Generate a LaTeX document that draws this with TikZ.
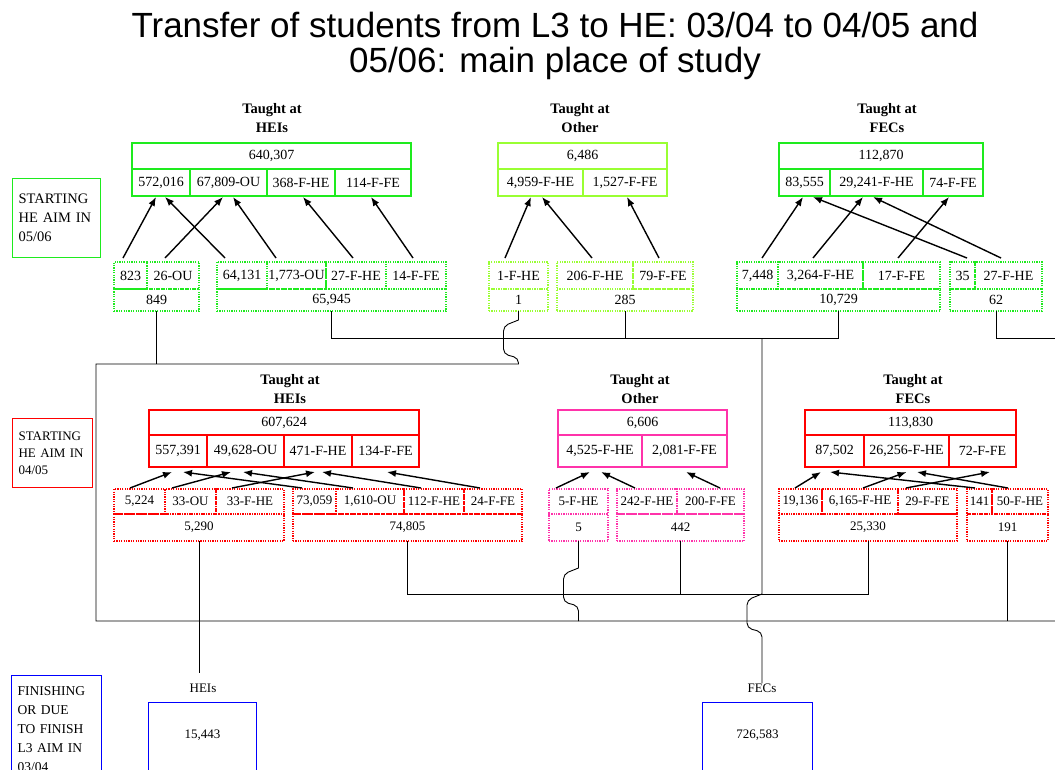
\documentclass[tikz,border=0pt]{standalone}
\usepackage{fontspec}
\setmainfont{Liberation Serif}
\newfontfamily\titlefont{Liberation Sans}
\usetikzlibrary{positioning,arrows.meta,calc}

\definecolor{hgreen}{RGB}{30,235,30}
\definecolor{lgreen}{RGB}{153,255,51}
\definecolor{hred}{RGB}{255,0,0}
\definecolor{hpink}{RGB}{255,51,170}
\definecolor{hblue}{RGB}{0,0,255}

\begin{document}
\begin{tikzpicture}[x=1pt, y=-1pt, >={Latex[length=9pt,width=7pt]},
  cell/.style={draw, rectangle, line width=1.2pt, inner sep=0pt, outer sep=0pt, minimum height=27pt, font=\fontsize{14}{16}\selectfont},
  dcell/.style={cell, dash pattern=on 1.2pt off 1.2pt},
  scell/.style={dcell, font=\fontsize{13}{15}\selectfont},
  head/.style={font=\bfseries\fontsize{14.5}{19}\selectfont, align=center, inner sep=0pt, anchor=north},
  aimbox/.style={draw, rectangle, line width=1.2pt, anchor=north west, align=left, inner xsep=6pt, inner ysep=0pt},
  endbox/.style={draw=hblue, rectangle, line width=1.2pt, anchor=north west, inner sep=0pt, minimum height=100pt, text height=10pt, text depth=38pt, font=\fontsize{13}{15}\selectfont},
  lbl/.style={inner sep=0pt, font=\fontsize{13}{15}\selectfont},
  wire/.style={draw, line width=0.9pt},
  arr/.style={->, line width=1.4pt}]
  \useasboundingbox (0,0) rectangle (1055,769);
  \clip (0,0) rectangle (1055,769);

  \node[font=\titlefont\fontsize{35}{35}\selectfont, align=center, inner sep=0pt, anchor=north] (title) at (555,12) {Transfer of students from L3 to HE: 03/04 to 04/05 and\\05/06: main place of study};

  % starting 05/06
  \node[aimbox, draw=hgreen, minimum width=88pt, minimum height=79pt, text width=76pt, font=\fontsize{14.5}{19}\selectfont] (aim0506) at (12,178) {STARTING\\HE AIM IN\\05/06};

  \node[head] (hdTopHEI) at (272,103) {Taught at\\HEIs};
  \node[cell, draw=hgreen, minimum width=58pt, anchor=north west] (topHEI1) at (132,169) {572,016};
  \node[cell, draw=hgreen, minimum width=77pt, right=0pt of topHEI1] (topHEI2) {67,809-OU};
  \node[cell, draw=hgreen, minimum width=68pt, right=0pt of topHEI2] (topHEI3) {368-F-HE};
  \node[cell, draw=hgreen, minimum width=76pt, right=0pt of topHEI3] (topHEI4) {114-F-FE};
  \node[cell, draw=hgreen, minimum width=279pt, minimum height=26pt, anchor=south west] (topHEI) at (topHEI1.north west) {640,307};

  \node[dcell, draw=hgreen, minimum width=33pt, anchor=north west] (inHEIa1) at (114,262) {823};
  \node[dcell, draw=hgreen, minimum width=52pt, right=0pt of inHEIa1] (inHEIa2) {26-OU};
  \node[dcell, draw=hgreen, minimum width=85pt, minimum height=22pt, anchor=north west] (inHEIa) at (inHEIa1.south west) {849};
  \node[dcell, draw=hgreen, minimum width=50pt, anchor=north west] (inHEIb1) at (217,262) {64,131};
  \node[dcell, draw=hgreen, minimum width=59pt, right=0pt of inHEIb1] (inHEIb2) {1,773-OU};
  \node[dcell, draw=hgreen, minimum width=60pt, right=0pt of inHEIb2] (inHEIb3) {27-F-HE};
  \node[dcell, draw=hgreen, minimum width=60pt, right=0pt of inHEIb3] (inHEIb4) {14-F-FE};
  \node[dcell, draw=hgreen, minimum width=229pt, minimum height=22pt, anchor=north west] (inHEIb) at (inHEIb1.south west) {65,945};

  \node[head] (hdTopOTH) at (580,103) {Taught at\\Other};
  \node[cell, draw=lgreen, minimum width=85pt, anchor=north west] (topOTH1) at (498,169) {4,959-F-HE};
  \node[cell, draw=lgreen, minimum width=84pt, right=0pt of topOTH1] (topOTH2) {1,527-F-FE};
  \node[cell, draw=lgreen, minimum width=169pt, minimum height=26pt, anchor=south west] (topOTH) at (topOTH1.north west) {6,486};

  \node[dcell, draw=lgreen, minimum width=59pt, anchor=north west] (inOTHa1) at (489,262) {1-F-HE};
  \node[dcell, draw=lgreen, minimum width=59pt, minimum height=22pt, anchor=north west] (inOTHa) at (inOTHa1.south west) {1};
  \node[dcell, draw=lgreen, minimum width=76pt, anchor=north west] (inOTHb1) at (557,262) {206-F-HE};
  \node[dcell, draw=lgreen, minimum width=60pt, right=0pt of inOTHb1] (inOTHb2) {79-F-FE};
  \node[dcell, draw=lgreen, minimum width=136pt, minimum height=22pt, anchor=north west] (inOTHb) at (inOTHb1.south west) {285};

  \node[head] (hdTopFEC) at (887,103) {Taught at\\FECs};
  \node[cell, draw=hgreen, minimum width=51pt, anchor=north west] (topFEC1) at (779,169) {83,555};
  \node[cell, draw=hgreen, minimum width=93pt, right=0pt of topFEC1] (topFEC2) {29,241-F-HE};
  \node[cell, draw=hgreen, minimum width=60pt, right=0pt of topFEC2] (topFEC3) {74-F-FE};
  \node[cell, draw=hgreen, minimum width=204pt, minimum height=26pt, anchor=south west] (topFEC) at (topFEC1.north west) {112,870};

  \node[dcell, draw=hgreen, minimum width=41pt, anchor=north west] (inFECa1) at (737,262) {7,448};
  \node[dcell, draw=hgreen, minimum width=85pt, right=0pt of inFECa1] (inFECa2) {3,264-F-HE};
  \node[dcell, draw=hgreen, minimum width=77pt, right=0pt of inFECa2] (inFECa3) {17-F-FE};
  \node[dcell, draw=hgreen, minimum width=203pt, minimum height=22pt, anchor=north west] (inFECa) at (inFECa1.south west) {10,729};
  \node[dcell, draw=hgreen, minimum width=25pt, anchor=north west] (inFECb1) at (950,262) {35};
  \node[dcell, draw=hgreen, minimum width=67pt, right=0pt of inFECb1] (inFECb2) {27-F-HE};
  \node[dcell, draw=hgreen, minimum width=92pt, minimum height=22pt, anchor=north west] (inFECb) at (inFECb1.south west) {62};

  % starting 04/05
  \node[aimbox, draw=hred, minimum width=80pt, minimum height=69pt, text width=68pt, font=\fontsize{13}{17}\selectfont] (aim0405) at (12,418) {STARTING\\HE AIM IN\\04/05};

  \node[head] (hdMidHEI) at (290,374) {Taught at\\HEIs};
  \node[cell, draw=hred, minimum width=58pt, minimum height=32pt, anchor=north west] (midHEI1) at (149,435) {557,391};
  \node[cell, draw=hred, minimum width=77pt, minimum height=32pt, right=0pt of midHEI1] (midHEI2) {49,628-OU};
  \node[cell, draw=hred, minimum width=68pt, minimum height=32pt, right=0pt of midHEI2] (midHEI3) {471-F-HE};
  \node[cell, draw=hred, minimum width=67pt, minimum height=32pt, right=0pt of midHEI3] (midHEI4) {134-F-FE};
  \node[cell, draw=hred, minimum width=270pt, minimum height=25pt, anchor=south west] (midHEI) at (midHEI1.north west) {607,624};

  \node[scell, draw=hred, minimum width=51pt, minimum height=25pt, anchor=north west] (inHEIc1) at (114,489) {5,224};
  \node[scell, draw=hred, minimum width=51pt, minimum height=25pt, right=0pt of inHEIc1] (inHEIc2) {33-OU};
  \node[scell, draw=hred, minimum width=68pt, minimum height=25pt, right=0pt of inHEIc2] (inHEIc3) {33-F-HE};
  \node[scell, draw=hred, minimum width=170pt, anchor=north west] (inHEIc) at (inHEIc1.south west) {5,290};
  \node[scell, draw=hred, minimum width=43pt, minimum height=25pt, anchor=north west] (inHEId1) at (293,489) {73,059};
  \node[scell, draw=hred, minimum width=68pt, minimum height=25pt, right=0pt of inHEId1] (inHEId2) {1,610-OU};
  \node[scell, draw=hred, minimum width=60pt, minimum height=25pt, right=0pt of inHEId2] (inHEId3) {112-F-HE};
  \node[scell, draw=hred, minimum width=58pt, minimum height=25pt, right=0pt of inHEId3] (inHEId4) {24-F-FE};
  \node[scell, draw=hred, minimum width=229pt, anchor=north west] (inHEId) at (inHEId1.south west) {74,805};

  \node[head] (hdMidOTH) at (640,374) {Taught at\\Other};
  \node[cell, draw=hpink, minimum width=84pt, minimum height=32pt, anchor=north west] (midOTH1) at (558,435) {4,525-F-HE};
  \node[cell, draw=hpink, minimum width=85pt, minimum height=32pt, right=0pt of midOTH1] (midOTH2) {2,081-F-FE};
  \node[cell, draw=hpink, minimum width=169pt, minimum height=25pt, anchor=south west] (midOTH) at (midOTH1.north west) {6,606};

  \node[scell, draw=hpink, minimum width=59pt, minimum height=25pt, anchor=north west] (inOTHc1) at (549,489) {5-F-HE};
  \node[scell, draw=hpink, minimum width=59pt, anchor=north west] (inOTHc) at (inOTHc1.south west) {5};
  \node[scell, draw=hpink, minimum width=60pt, minimum height=25pt, anchor=north west] (inOTHd1) at (617,489) {242-F-HE};
  \node[scell, draw=hpink, minimum width=67pt, minimum height=25pt, right=0pt of inOTHd1] (inOTHd2) {200-F-FE};
  \node[scell, draw=hpink, minimum width=127pt, anchor=north west] (inOTHd) at (inOTHd1.south west) {442};

  \node[head] (hdMidFEC) at (913,374) {Taught at\\FECs};
  \node[cell, draw=hred, minimum width=59pt, minimum height=32pt, anchor=north west] (midFEC1) at (805,435) {87,502};
  \node[cell, draw=hred, minimum width=85pt, minimum height=32pt, right=0pt of midFEC1] (midFEC2) {26,256-F-HE};
  \node[cell, draw=hred, minimum width=67pt, minimum height=32pt, right=0pt of midFEC2] (midFEC3) {72-F-FE};
  \node[cell, draw=hred, minimum width=211pt, minimum height=25pt, anchor=south west] (midFEC) at (midFEC1.north west) {113,830};

  \node[scell, draw=hred, minimum width=43pt, minimum height=25pt, anchor=north west] (inFECc1) at (779,489) {19,136};
  \node[scell, draw=hred, minimum width=76pt, minimum height=25pt, right=0pt of inFECc1] (inFECc2) {6,165-F-HE};
  \node[scell, draw=hred, minimum width=59pt, minimum height=25pt, right=0pt of inFECc2] (inFECc3) {29-F-FE};
  \node[scell, draw=hred, minimum width=178pt, anchor=north west] (inFECc) at (inFECc1.south west) {25,330};
  \node[scell, draw=hred, minimum width=25pt, minimum height=25pt, anchor=north west] (inFECd1) at (967,489) {141};
  \node[scell, draw=hred, minimum width=56pt, minimum height=25pt, right=0pt of inFECd1] (inFECd2) {50-F-HE};
  \node[scell, draw=hred, minimum width=81pt, anchor=north west] (inFECd) at (inFECd1.south west) {191};

  % finishing 03/04
  \node[aimbox, draw=hblue, minimum width=90pt, minimum height=106pt, text width=78pt, font=\fontsize{13.5}{19}\selectfont] (aim0304) at (11,675) {FINISHING\\OR DUE\\TO FINISH\\L3 AIM IN\\03/04};
  \node[lbl] (lblHEI) at (203,688) {HEIs};
  \node[endbox, minimum width=108pt] (endHEI) at (148,702) {15,443};
  \node[lbl] (lblFEC) at (762,688) {FECs};
  \node[endbox, minimum width=110pt] (endFEC) at (702,702) {726,583};

  % arrows 05/06
  \draw[arr] ([xshift=-7.5pt,yshift=4pt]inHEIa1.north) -- ([xshift=-5pt,yshift=-1pt]topHEI1.south);
  \draw[arr] ([xshift=-8pt,yshift=4pt]inHEIa2.north) -- ([xshift=-5.5pt,yshift=-1pt]topHEI2.south);
  \draw[arr] ([xshift=-17pt,yshift=4pt]inHEIb1.north) -- ([xshift=4pt,yshift=-1pt]topHEI1.south);
  \draw[arr] ([xshift=-20.5pt,yshift=4pt]inHEIb2.north) -- ([xshift=4.5pt,yshift=-1pt]topHEI2.south);
  \draw[arr] ([xshift=-3pt,yshift=4pt]inHEIb3.north) -- ([xshift=2pt,yshift=-1pt]topHEI3.south);
  \draw[arr] ([xshift=-3pt,yshift=4pt]inHEIb4.north) -- ([xshift=-2pt,yshift=-1pt]topHEI4.south);
  \draw[arr] ([xshift=-13.5pt,yshift=4pt]inOTHa1.north) -- ([xshift=-9.5pt,yshift=-1pt]topOTH1.south);
  \draw[arr] ([xshift=-3pt,yshift=4pt]inOTHb1.north) -- ([xshift=1.5pt,yshift=-1pt]topOTH1.south);
  \draw[arr] ([xshift=-4pt,yshift=4pt]inOTHb2.north) -- ([xshift=2pt,yshift=-1pt]topOTH2.south);
  \draw[arr] ([xshift=4.5pt,yshift=4pt]inFECa1.north) -- ([xshift=-1.5pt,yshift=-1pt]topFEC1.south);
  \draw[arr] ([xshift=-7.5pt,yshift=4pt]inFECa2.north) -- ([xshift=-13.5pt,yshift=-1pt]topFEC2.south);
  \draw[arr] ([xshift=-3.5pt,yshift=4pt]inFECa3.north) -- ([xshift=-4pt,yshift=-1pt]topFEC3.south);
  \draw[arr] ([xshift=4.5pt,yshift=4pt]inFECb1.north) -- ([xshift=8.5pt,yshift=-1pt]topFEC1.south);
  \draw[arr] ([xshift=-7.5pt,yshift=4pt]inFECb2.north) -- ([xshift=-3.5pt,yshift=-1pt]topFEC2.south);

  % arrows 04/05
  \draw[arr] ([xshift=-9.5pt,yshift=1pt]inHEIc1.north) -- ([xshift=-6pt,yshift=-5pt]midHEI1.south);
  \draw[arr] ([xshift=-18.5pt,yshift=1pt]inHEIc2.north) -- ([xshift=-14.5pt,yshift=-5pt]midHEI2.south);
  \draw[arr] ([xshift=-18pt,yshift=1pt]inHEIc3.north) -- ([xshift=-3pt,yshift=-5pt]midHEI3.south);
  \draw[arr] ([xshift=-12.5pt,yshift=1pt]inHEId1.north) -- ([xshift=5pt,yshift=-5pt]midHEI1.south);
  \draw[arr] ([xshift=-17pt,yshift=1pt]inHEId2.north) -- ([xshift=-2.5pt,yshift=-5pt]midHEI2.south);
  \draw[arr] ([xshift=-13pt,yshift=1pt]inHEId3.north) -- ([xshift=4pt,yshift=-5pt]midHEI3.south);
  \draw[arr] ([xshift=-13pt,yshift=1pt]inHEId4.north) -- ([xshift=1.5pt,yshift=-5pt]midHEI4.south);
  \draw[arr] ([xshift=-22.5pt,yshift=1pt]inOTHc1.north) -- ([xshift=-10pt,yshift=-5pt]midOTH1.south);
  \draw[arr] ([xshift=-12pt,yshift=1pt]inOTHd1.north) -- ([xshift=1pt,yshift=-5pt]midOTH1.south);
  \draw[arr] ([xshift=9.5pt,yshift=1pt]inOTHd2.north) -- ([xshift=1.5pt,yshift=-5pt]midOTH2.south);
  \draw[arr] ([xshift=-5.5pt,yshift=1pt]inFECc1.north) -- ([xshift=-13.5pt,yshift=-5pt]midFEC1.south);
  \draw[arr] ([xshift=3pt,yshift=1pt]inFECc2.north) -- ([yshift=-5pt]midFEC2.south);
  \draw[arr] ([xshift=-21.5pt,yshift=1pt]inFECc3.north) -- ([xshift=7.5pt,yshift=-5pt]midFEC3.south);
  \draw[arr] ([xshift=-4.5pt,yshift=1pt]inFECd1.north) -- ([xshift=-4.5pt,yshift=-5pt]midFEC1.south);
  \draw[arr] ([xshift=-12pt,yshift=1pt]inFECd2.north) -- ([xshift=10.5pt,yshift=-5pt]midFEC2.south);

  % joining lines
  \coordinate (jL) at (96,364);
  \coordinate (jBL) at (96,621);
  \coordinate (jBR) at (1055,621);
  \coordinate (jM) at (762,338);
  \coordinate (jTR) at (1055,338);
  \coordinate (jLow) at (762,594);

  \draw[wire] (inHEIa.south) -- (inHEIa.south |- jL);
  \draw[wire] (inOTHa.south) -- ++(0,9) [rounded corners=5pt] -- ++(-15,6) -- ++(0,28) -- ++(15,4) [sharp corners] -- (inOTHa.south |- jL) -- (jL) -- (jBL) -- (jBR);
  \draw[wire] (inHEIb.south) |- (jM);
  \draw[wire] (inFECa.south) |- (jM);
  \draw[wire] (inOTHb.south) -- (inOTHb.south |- jM);
  \draw[wire] (inFECb.south) |- (jTR);
  \draw[wire] (jM) -- (jLow) [rounded corners=5pt] -- ++(-15,6) -- ++(0,28) -- ++(15,4) [sharp corners] -- (lblFEC.north);
  \draw[wire] (inHEId.south) |- (jLow);
  \draw[wire] (inFECc.south) |- (jLow);
  \draw[wire] (inOTHd.south) -- (inOTHd.south |- jLow);
  \draw[wire] (inOTHc.south) -- ++(0,27) [rounded corners=5pt] -- ++(-15,6) -- ++(0,28) -- ++(15,4) [sharp corners] -- (inOTHc.south |- jBL);
  \draw[wire] (inFECd.south) -- (inFECd.south |- jBL);
  \draw[wire] (inHEIc.south) -- ([yshift=10pt]inHEIc.south |- lblHEI.north);
\end{tikzpicture}
\end{document}
